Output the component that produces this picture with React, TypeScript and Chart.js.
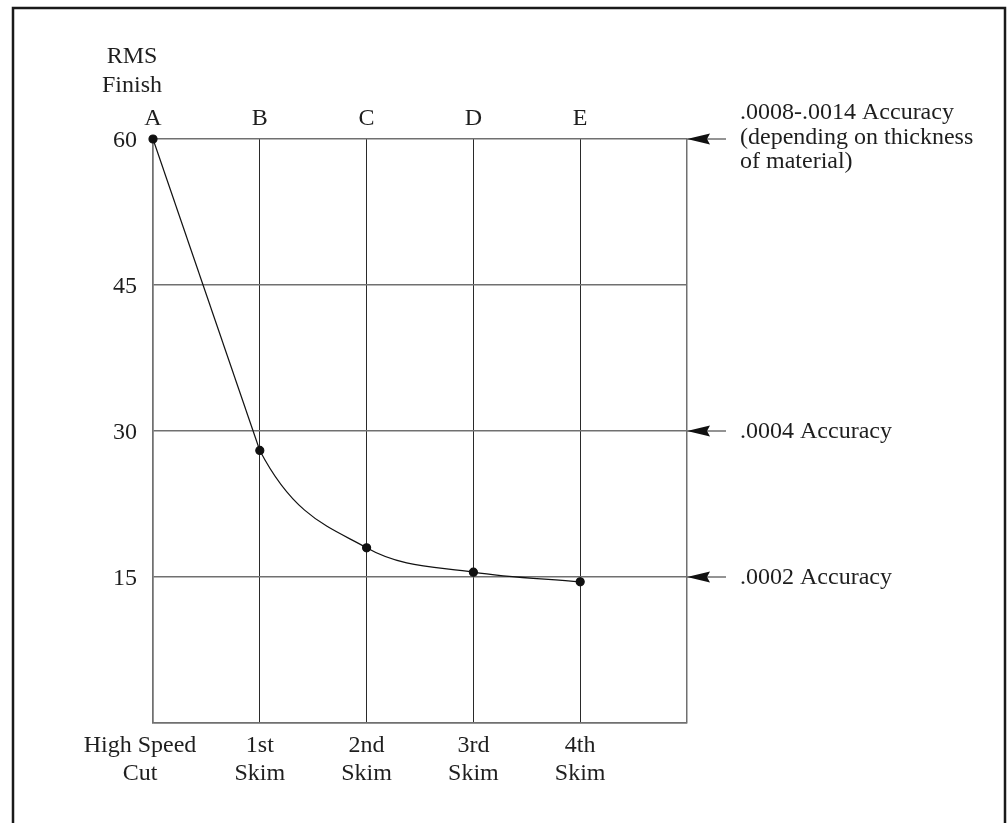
import React, { useEffect, useRef } from "react";
import { Chart, registerables } from "chart.js";

Chart.register(...registerables);

// ---- data ----
const stageLetters = ["A", "B", "C", "D", "E"];
const stageLabels = [
  ["High Speed", "Cut"],
  ["1st", "Skim"],
  ["2nd", "Skim"],
  ["3rd", "Skim"],
  ["4th", "Skim"],
];
const rmsFinish = [60, 28, 18, 15.5, 14.5];
const yTickValues = [15, 30, 45, 60];
const yAxisTitle = ["RMS", "Finish"];
const accuracyLevels = [60, 30, 15];
const accuracyNotes = [
  [".0008-.0014 Accuracy", "(depending on thickness", "of material)"],
  [".0004 Accuracy"],
  [".0002 Accuracy"],
];

const FONT = "24px 'Liberation Serif', 'Times New Roman', serif";
const TEXT = "#1e1e1e";
const GRID_GRAY = "#707070";
const GRID_DARK = "#2a2a2a";

const annotationPlugin = {
  id: "annotations",
  afterDraw(chart: any) {
    const ctx = chart.ctx as CanvasRenderingContext2D;
    const xs = chart.scales.x;
    const ys = chart.scales.y;
    ctx.save();

    // outer frame
    ctx.strokeStyle = "#1a1a1a";
    ctx.lineWidth = 2.5;
    ctx.beginPath();
    ctx.moveTo(13, 840);
    ctx.lineTo(13, 8);
    ctx.lineTo(1005, 8);
    ctx.lineTo(1005, 840);
    ctx.stroke();

    ctx.font = FONT;
    ctx.fillStyle = TEXT;

    // axis title
    ctx.textAlign = "center";
    ctx.textBaseline = "alphabetic";
    const left = xs.getPixelForValue(0);
    ctx.fillText(yAxisTitle[0], left - 21, 63);
    ctx.fillText(yAxisTitle[1], left - 21, 92);

    // top letters
    stageLetters.forEach((l, i) => {
      ctx.fillText(l, xs.getPixelForValue(i), 125);
    });

    // bottom labels
    stageLabels.forEach((lines, i) => {
      const shift = i === 0 ? -13 : 0;
      const x = xs.getPixelForValue(i) + shift;
      lines.forEach((t, j) => ctx.fillText(t, x, 752 + j * 28));
    });

    // y tick labels
    ctx.textAlign = "right";
    ctx.textBaseline = "middle";
    yTickValues.forEach((v) => {
      ctx.fillText(String(v), left - 16, ys.getPixelForValue(v) + 2);
    });

    // accuracy arrows and notes
    const right = xs.getPixelForValue(5);
    accuracyLevels.forEach((v, k) => {
      const y = ys.getPixelForValue(v);
      ctx.strokeStyle = GRID_GRAY;
      ctx.lineWidth = 1.5;
      ctx.beginPath();
      ctx.moveTo(right, y);
      ctx.lineTo(right + 39, y);
      ctx.stroke();
      ctx.fillStyle = "#111";
      ctx.beginPath();
      ctx.moveTo(right, y);
      ctx.lineTo(right + 23, y - 5.5);
      ctx.lineTo(right + 20, y);
      ctx.lineTo(right + 23, y + 5.5);
      ctx.closePath();
      ctx.fill();

      ctx.fillStyle = TEXT;
      ctx.textAlign = "left";
      const notes = accuracyNotes[k];
      if (notes.length > 1) {
        ctx.textBaseline = "alphabetic";
        notes.forEach((t, j) => ctx.fillText(t, right + 53, y - 20 + j * 24.5));
      } else {
        ctx.textBaseline = "middle";
        ctx.fillText(notes[0], right + 53, y + 1);
      }
    });

    ctx.restore();
  },
};

export default function App() {
  const ref = useRef<HTMLCanvasElement | null>(null);

  useEffect(() => {
    if (!ref.current) return;
    const points = rmsFinish.map((v, i) => ({ x: i, y: v }));
    const chart = new Chart(ref.current, {
      type: "line",
      data: {
        datasets: [
          {
            data: points.slice(0, 2),
            borderColor: "#111",
            borderWidth: 1.2,
            tension: 0,
            pointRadius: 0,
            fill: false,
            clip: false,
          } as any,
          {
            data: points,
            borderColor: "#111",
            borderWidth: 1.2,
            cubicInterpolationMode: "monotone",
            pointRadius: 4,
            pointBackgroundColor: "#111",
            pointBorderColor: "#111",
            fill: false,
            clip: false,
            segment: {
              borderColor: (c: any) => (c.p0DataIndex === 0 ? "rgba(0,0,0,0)" : "#111"),
            },
          } as any,
        ],
      },
      options: {
        responsive: false,
        animation: false,
        devicePixelRatio: 1,
        layout: { padding: { left: 153, right: 320, top: 139, bottom: 100 } },
        plugins: { legend: { display: false }, tooltip: { enabled: false } },
        scales: {
          x: {
            type: "linear",
            min: 0,
            max: 5,
            ticks: { display: false, stepSize: 1 },
            grid: {
              drawTicks: false,
              lineWidth: (c: any) => (c.tick && (c.tick.value === 0 || c.tick.value === 5) ? 1.5 : 1),
              color: (c: any) =>
                c.tick && (c.tick.value === 0 || c.tick.value === 5) ? GRID_GRAY : GRID_DARK,
            },
            border: { display: true, color: GRID_GRAY, width: 1.5 },
          },
          y: {
            type: "linear",
            min: 0,
            max: 60,
            ticks: { display: false, stepSize: 15 },
            grid: { drawTicks: false, color: GRID_GRAY, lineWidth: 1.5 },
            border: { display: true, color: GRID_GRAY, width: 1.5 },
          },
        },
      },
      plugins: [annotationPlugin],
    });
    return () => chart.destroy();
  }, []);

  return (
    <div style={{ position: "absolute", left: 0, top: 0, width: 1007, height: 823, background: "#fff" }}>
      <canvas ref={ref} width={1007} height={823} />
    </div>
  );
}
